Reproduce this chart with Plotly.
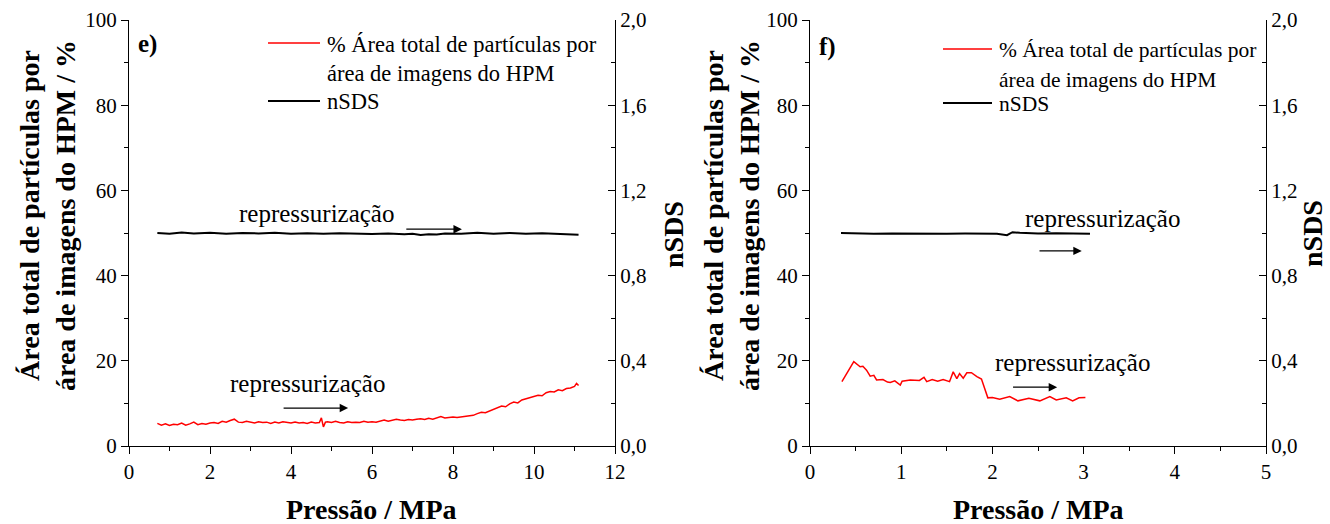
import plotly.graph_objects as go

# ---------------- data ----------------
# panel e) red: % area of particles
e_red_p = [0.7, 0.8, 0.9, 1.0, 1.1, 1.2, 1.3, 1.4, 1.5, 1.6, 1.7, 1.8, 1.9, 2.0, 2.1, 2.2, 2.3, 2.4, 2.5, 2.6,
           2.7, 2.8, 2.9, 3.0, 3.1, 3.2, 3.3, 3.4, 3.5, 3.6, 3.7, 3.8, 3.9, 4.0, 4.1, 4.2, 4.3, 4.4, 4.5, 4.6,
           4.7, 4.75, 4.8, 4.85, 4.9, 5.0, 5.1, 5.2, 5.3, 5.4, 5.5, 5.6, 5.7, 5.8, 5.9, 6.0, 6.1, 6.2, 6.3, 6.4,
           6.5, 6.6, 6.7, 6.8, 6.9, 7.0, 7.1, 7.2, 7.3, 7.4, 7.5, 7.6, 7.7, 7.8, 7.9, 8.0, 8.1, 8.2, 8.3, 8.4,
           8.5, 8.6, 8.7, 8.8, 8.9, 9.0, 9.1, 9.2, 9.3, 9.4, 9.5, 9.6, 9.7, 9.8, 9.9, 10.0, 10.1, 10.2, 10.3, 10.4,
           10.5, 10.6, 10.7, 10.8, 10.9, 11.0, 11.05, 11.1]
e_red_v = [5.3, 4.9, 5.2, 4.8, 5.1, 5.0, 5.4, 4.9, 5.2, 5.6, 5.0, 5.3, 5.1, 5.4, 5.5, 5.3, 5.8, 5.6, 6.0, 6.3,
           5.6, 5.5, 5.8, 5.6, 5.4, 5.7, 5.5, 5.6, 5.3, 5.6, 5.4, 5.7, 5.5, 5.4, 5.6, 5.4, 5.5, 5.3, 5.6, 5.4,
           5.5, 6.6, 4.5, 5.6, 5.7, 5.5, 5.8, 5.5, 5.4, 5.7, 5.5, 5.6, 5.5, 5.8, 5.6, 5.7, 5.6, 5.9, 6.1, 5.8,
           6.0, 6.3, 6.1, 6.0, 6.2, 6.1, 6.3, 6.4, 6.2, 6.5, 6.3, 6.6, 6.9, 6.6, 6.7, 6.8, 6.7, 6.8, 6.9, 7.0,
           7.2, 7.6, 7.9, 7.8, 8.2, 8.5, 8.9, 9.4, 9.2, 9.9, 10.3, 10.1, 10.8, 11.1, 11.4, 11.6, 11.9, 11.8, 12.5, 12.8,
           12.7, 13.2, 13.0, 13.5, 13.6, 14.0, 14.7, 14.2]
# panel e) black: nSDS
e_blk_p = [0.7, 1.0, 1.3, 1.6, 2.0, 2.4, 2.8, 3.2, 3.6, 4.0, 4.4, 4.8, 5.2, 5.6, 6.0, 6.4, 6.8, 7.0, 7.2, 7.4,
           7.6, 7.8, 8.2, 8.6, 9.0, 9.4, 9.8, 10.2, 10.6, 11.0, 11.1]
e_blk_v = [1.000, 0.996, 1.002, 0.998, 1.001, 0.997, 1.000, 0.998, 1.001, 0.997, 0.999, 0.996, 0.999, 0.997, 0.995,
           0.998, 0.994, 0.996, 0.991, 0.994, 0.993, 0.998, 0.996, 1.001, 0.997, 1.000, 0.996, 0.999, 0.997, 0.996, 0.992]

# panel f) red
f_red_p = [0.35, 0.42, 0.48, 0.55, 0.58, 0.62, 0.66, 0.70, 0.73, 0.80, 0.85, 0.88, 0.93, 0.99, 1.01, 1.10, 1.20,
           1.25, 1.28, 1.34, 1.40, 1.46, 1.53, 1.57, 1.61, 1.64, 1.68, 1.72, 1.77, 1.83, 1.88, 1.95, 2.00, 2.08,
           2.19, 2.28, 2.40, 2.52, 2.63, 2.70, 2.81, 2.88, 2.95, 3.02]
f_red_v = [15.1, 17.6, 19.8, 18.6, 18.7, 17.8, 16.4, 16.6, 15.5, 15.6, 15.0, 14.9, 15.3, 14.3, 15.2, 15.5, 15.4,
           16.1, 15.1, 15.6, 15.2, 15.6, 15.1, 17.4, 15.8, 17.0, 15.9, 17.2, 17.2, 16.3, 15.7, 11.3, 11.4, 11.0,
           11.6, 10.6, 11.2, 10.6, 11.6, 10.8, 11.3, 10.6, 11.3, 11.4]
# panel f) black: nSDS
f_blk_p = [0.34, 0.5, 0.7, 0.9, 1.1, 1.3, 1.5, 1.7, 1.9, 2.05, 2.16, 2.22, 2.3, 2.5, 2.7, 2.9, 3.07]
f_blk_v = [1.000, 0.998, 0.996, 0.998, 0.997, 0.998, 0.997, 0.998, 0.996, 0.997, 0.990, 1.004, 1.001, 0.998,
           0.999, 0.996, 0.996]

legend_red_1 = "% Área total de partículas por"
legend_red_2 = "área de imagens do HPM"
legend_blk = "nSDS"
ytitle = "<b>Área total de partículas por<br>área de imagens do HPM / %</b>"
xtitle = "<b>Pressão / MPa</b>"
y2title = "<b>nSDS</b>"
ann_text = "repressurização"

FONT = "Times New Roman, Liberation Serif, DejaVu Serif, serif"
RED = "#ff0000"
BLK = "#000000"

fig = go.Figure()
fig.add_trace(go.Scatter(x=e_red_p, y=e_red_v, mode="lines", line=dict(color=RED, width=1.5),
                         name=legend_red_1, xaxis="x", yaxis="y", showlegend=False))
fig.add_trace(go.Scatter(x=e_blk_p, y=e_blk_v, mode="lines", line=dict(color=BLK, width=2),
                         name=legend_blk, xaxis="x", yaxis="y2", showlegend=False))
fig.add_trace(go.Scatter(x=f_red_p, y=f_red_v, mode="lines", line=dict(color=RED, width=1.5),
                         name=legend_red_1, xaxis="x3", yaxis="y3", showlegend=False))
fig.add_trace(go.Scatter(x=f_blk_p, y=f_blk_v, mode="lines", line=dict(color=BLK, width=2),
                         name=legend_blk, xaxis="x3", yaxis="y4", showlegend=False))

W, H = 1330, 524
dxL = [129 / W, 615 / W]
dxR = [810 / W, 1266 / W]
dy = [1 - 446 / H, 1 - 20 / H]

tickfont = dict(family=FONT, size=21, color="black")
common = dict(showline=True, linecolor="black", linewidth=1.3, showgrid=False, zeroline=False,
              tickfont=tickfont, tickcolor="black", ticklen=7, tickwidth=1.3, automargin=False)

def minor(d, inside=False):
    return dict(dtick=d, ticklen=4, tickcolor="black", tickwidth=1.3, ticks="inside" if inside else "outside")

fig.update_layout(
    width=W, height=H, margin=dict(l=0, r=0, t=0, b=0, autoexpand=False),
    paper_bgcolor="white", plot_bgcolor="white", separators=",.",
    font=dict(family=FONT, color="black"), showlegend=False,
    xaxis=dict(domain=dxL, range=[0, 12], dtick=2, tick0=0, ticks="outside", anchor="y",
               minor=minor(1), **common),
    xaxis2=dict(domain=dxL, range=[0, 12], dtick=2, tick0=0, ticks="inside", anchor="y", overlaying="x",
                side="top", showticklabels=False, minor=minor(1, True), **common),
    yaxis=dict(domain=dy, range=[0, 100], dtick=20, tick0=0, ticks="outside", anchor="x",
               minor=minor(10), **common),
    yaxis2=dict(domain=dy, range=[0, 2], dtick=0.4, tick0=0, tickformat=".1f", ticks="inside", anchor="x",
                overlaying="y", side="right", minor=minor(0.2, True), **common),
    xaxis3=dict(domain=dxR, range=[0, 5], dtick=1, tick0=0, ticks="outside", anchor="y3",
                minor=minor(0.5), **common),
    xaxis4=dict(domain=dxR, range=[0, 5], dtick=1, tick0=0, ticks="inside", anchor="y3", overlaying="x3",
                side="top", showticklabels=False, minor=minor(0.5, True), **common),
    yaxis3=dict(domain=dy, range=[0, 100], dtick=20, tick0=0, ticks="outside", anchor="x3",
                minor=minor(10), **common),
    yaxis4=dict(domain=dy, range=[0, 2], dtick=0.4, tick0=0, tickformat=".1f", ticks="inside", anchor="x3",
                overlaying="y3", side="right", minor=minor(0.2, True), **common),
)

def px(x):
    return x / W

def py(y):
    return 1 - y / H

ann = []
shapes = []
# axis titles
for cx, txt in [(47, ytitle), (731, ytitle)]:
    ann.append(dict(x=px(cx), y=py(216), xref="paper", yref="paper", text=txt, textangle=-90,
                    xanchor="center", yanchor="middle",
                    showarrow=False, font=dict(family=FONT, size=28, color="black"), align="center"))
for cx in [673, 1312]:
    ann.append(dict(x=px(cx), y=py(234), xref="paper", yref="paper", text=y2title, textangle=-90,
                    xanchor="center", yanchor="middle",
                    showarrow=False, font=dict(family=FONT, size=28, color="black")))
for cx in [372, 1038]:
    ann.append(dict(x=px(cx), y=py(509), xref="paper", yref="paper", text=xtitle,
                    xanchor="center", yanchor="middle",
                    showarrow=False, font=dict(family=FONT, size=28, color="black")))
# panel labels
ann.append(dict(x=px(136), y=py(44), xref="paper", yref="paper", text="<b>e)</b>", xanchor="left",
                yanchor="middle", showarrow=False, font=dict(family=FONT, size=25, color="black")))
ann.append(dict(x=px(817), y=py(47), xref="paper", yref="paper", text="<b>f)</b>", xanchor="left",
                yanchor="middle", showarrow=False, font=dict(family=FONT, size=25, color="black")))

# manual legends: (line x0, line x1, text x, y rows, font size)
for lx0, lx1, tx, (y1, y2, y3), fs in [(268, 320, 325, (43, 73, 101), 22.5),
                                      (943, 992, 997, (49, 79, 103), 21.5)]:
    shapes.append(dict(type="line", xref="paper", yref="paper", x0=px(lx0), x1=px(lx1), y0=py(y1), y1=py(y1),
                       line=dict(color=RED, width=1.5)))
    shapes.append(dict(type="line", xref="paper", yref="paper", x0=px(lx0), x1=px(lx1), y0=py(y3), y1=py(y3),
                       line=dict(color=BLK, width=2)))
    for txt, yy in [(legend_red_1, y1), (legend_red_2, y2), (legend_blk, y3)]:
        ann.append(dict(x=px(tx), y=py(yy + 1), xref="paper", yref="paper", text=txt, xanchor="left",
                        yanchor="middle", showarrow=False, font=dict(family=FONT, size=fs, color="black")))

# text labels (data coords)
for xr, yr, x, y in [("x", "y", 4.64, 54.5), ("x", "y", 4.4, 14.6), ("x3", "y3", 3.21, 53.3), ("x3", "y3", 2.88, 19.6)]:
    ann.append(dict(x=x, y=y, xref=xr, yref=yr, text=ann_text, showarrow=False, xanchor="center",
                    yanchor="middle", font=dict(family=FONT, size=25, color="black")))
# arrows
for xr, yr, x0, x1, y in [("x", "y", 6.81, 8.22, 50.9), ("x", "y", 3.78, 5.41, 8.9),
                          ("x3", "y3", 2.50, 2.98, 45.8), ("x3", "y3", 2.21, 2.71, 13.8)]:
    ann.append(dict(x=x1, y=y, ax=x0, ay=y, xref=xr, yref=yr, axref=xr, ayref=yr, text="",
                    showarrow=True, arrowhead=2, arrowsize=1.3, arrowwidth=1.3, arrowcolor="black"))
fig.update_layout(annotations=ann, shapes=shapes)

fig.write_html("out.html")
